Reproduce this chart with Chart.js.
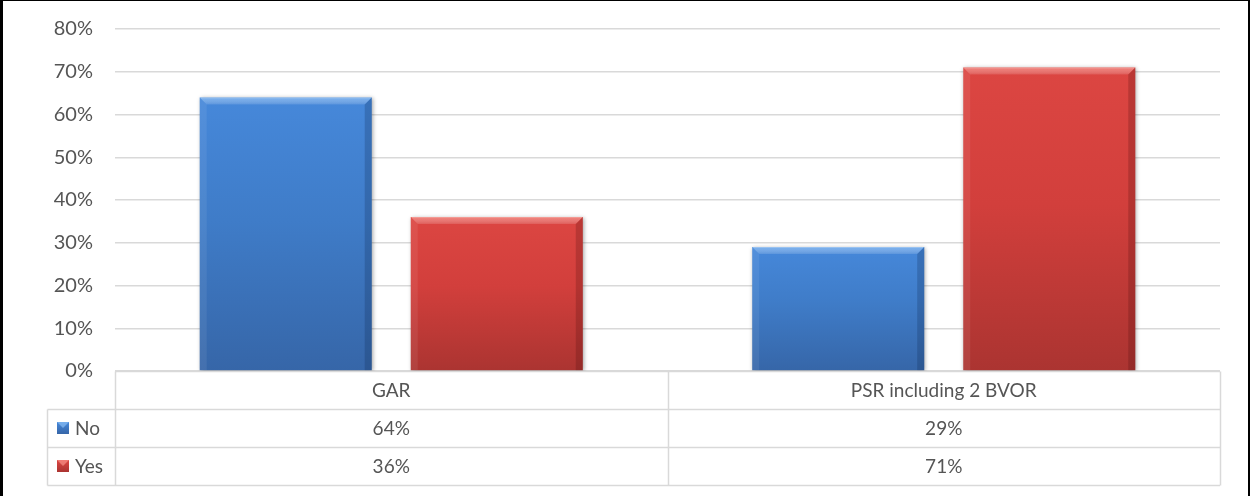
<!DOCTYPE html>
<html>
<head>
<meta charset="utf-8">
<script src="https://cdn.jsdelivr.net/npm/chart.js@4.4.1/dist/chart.umd.min.js"></script>
<style>
  html, body { margin: 0; padding: 0; background: #fff; }
  #frame {
    width: 1250px; height: 496px; box-sizing: border-box;
    border-left: 3px solid #000; border-top: 1px solid #000; border-right: 2px solid #000;
    overflow: hidden; background: #fff;
  }
  canvas { display: block; }
</style>
</head>
<body>
<div id="frame"><canvas id="chart" width="1245" height="495"></canvas></div>
<script>
// Survey answers per method, in percent
const categories = ['GAR', 'PSR including 2 BVOR'];
const seriesNames = ['No', 'Yes'];
const noValues = [64, 29];
const yesValues = [36, 71];
const yTickValues = [0, 10, 20, 30, 40, 50, 60, 70, 80];

const FONT = 'Lato, "Open Sans", sans-serif';
const TEXT = '#555555';
const LINE = '#d9d9d9';

// Fill shades for each series: top, middle, bottom, bevel light, bevel dark
const shades = {
  No:  { top: '#4688da', mid: '#3f7cc8', bot: '#3666a8', light: 'rgba(150,200,250,0.6)', dark: 'rgba(10,30,70,0.22)' },
  Yes: { top: '#dc4642', mid: '#d23f3c', bot: '#ab3431', light: 'rgba(255,160,150,0.6)', dark: 'rgba(70,10,10,0.22)' }
};

function barFill(name) {
  return (ctx) => {
    const chart = ctx.chart;
    const y = chart.scales.y;
    if (!y || ctx.raw === undefined) return shades[name].mid;
    const top = y.getPixelForValue(ctx.raw);
    const bottom = y.getPixelForValue(0);
    if (!isFinite(top) || !isFinite(bottom) || bottom - top < 1) return shades[name].mid;
    const g = chart.ctx.createLinearGradient(0, top, 0, bottom);
    g.addColorStop(0, shades[name].top);
    g.addColorStop(0.45, shades[name].mid);
    g.addColorStop(1, shades[name].bot);
    return g;
  };
}

// Soft shadow under the bars plus a bevelled edge on each bar
const bevelPlugin = {
  id: 'bevel',
  beforeDatasetsDraw(chart) {
    const c = chart.ctx;
    c.save();
    c.shadowColor = 'rgba(0,0,0,0.35)';
    c.shadowBlur = 4;
    c.shadowOffsetX = 1;
    c.shadowOffsetY = 1;
  },
  afterDatasetsDraw(chart) {
    const c = chart.ctx;
    c.restore();
    chart.data.datasets.forEach((ds, di) => {
      const meta = chart.getDatasetMeta(di);
      const sh = shades[ds.label];
      meta.data.forEach((bar) => {
        const p = bar.getProps(['x', 'y', 'base', 'width'], true);
        const l = p.x - p.width / 2, r = p.x + p.width / 2;
        const t = p.y, b = p.base, k = 7;
        c.save();
        // top face
        const tg = c.createLinearGradient(0, t, 0, t + k);
        tg.addColorStop(0, sh.light);
        tg.addColorStop(1, 'rgba(255,255,255,0.12)');
        c.fillStyle = tg;
        c.beginPath();
        c.moveTo(l, t); c.lineTo(r, t); c.lineTo(r - k, t + k); c.lineTo(l + k, t + k); c.closePath();
        c.fill();
        // left face
        c.fillStyle = 'rgba(255,255,255,0.07)';
        c.beginPath();
        c.moveTo(l, t); c.lineTo(l + k, t + k); c.lineTo(l + k, b); c.lineTo(l, b); c.closePath();
        c.fill();
        // right face
        c.fillStyle = sh.dark;
        c.beginPath();
        c.moveTo(r, t); c.lineTo(r - k, t + k); c.lineTo(r - k, b); c.lineTo(r, b); c.closePath();
        c.fill();
        // thin highlight on the very top edge
        c.fillStyle = 'rgba(255,255,255,0.25)';
        c.fillRect(l + 1, t, p.width - 2, 1);
        c.restore();
      });
    });
  }
};

// Data table under the plot: category header row plus one row per series
const tablePlugin = {
  id: 'dataTable',
  afterDraw(chart) {
    const c = chart.ctx;
    const a = chart.chartArea;
    const x = chart.scales.x;
    const rowH = 37.7;
    const top = Math.round(a.bottom) + 0.5;
    const keyLeft = 44.5;
    const edges = [a.left];
    for (let i = 1; i < categories.length; i++) {
      edges.push((x.getPixelForValue(i - 1) + x.getPixelForValue(i)) / 2);
    }
    edges.push(a.right);

    c.save();
    c.strokeStyle = LINE;
    c.lineWidth = 1.5;
    c.beginPath();
    c.moveTo(a.left, top); c.lineTo(a.right, top);
    for (let r = 1; r <= seriesNames.length; r++) {
      const yy = Math.round(top + rowH * r) + 0.5;
      c.moveTo(keyLeft, yy); c.lineTo(a.right, yy);
    }
    const bottom = Math.round(top + rowH * (seriesNames.length + 1)) + 0.5;
    c.moveTo(keyLeft, bottom); c.lineTo(a.right, bottom);
    c.moveTo(keyLeft, Math.round(top + rowH) + 0.5); c.lineTo(keyLeft, bottom);
    edges.forEach((e) => {
      const ex = Math.round(e) + 0.5;
      c.moveTo(ex, top); c.lineTo(ex, bottom);
    });
    c.stroke();

    const size = 19;
    c.font = size + 'px ' + FONT;
    c.fillStyle = TEXT;
    c.textBaseline = 'alphabetic';
    const capShift = size * 0.36;

    // header row
    c.textAlign = 'center';
    categories.forEach((cat, i) => {
      c.fillText(cat, x.getPixelForValue(i), top + rowH / 2 + capShift);
    });

    // series rows
    const rows = [noValues, yesValues];
    rows.forEach((vals, r) => {
      const cy = top + rowH * (r + 1) + rowH / 2;
      vals.forEach((v, i) => {
        c.textAlign = 'center';
        c.fillText(v + '%', x.getPixelForValue(i), cy + capShift);
      });
      // legend key
      const name = seriesNames[r];
      const sh = shades[name];
      const kx = 54, ky = Math.round(cy - 6), ks = 12;
      const kg = c.createLinearGradient(0, ky, 0, ky + ks);
      kg.addColorStop(0, sh.top);
      kg.addColorStop(1, sh.bot);
      c.fillStyle = kg;
      c.fillRect(kx, ky, ks, ks);
      c.fillStyle = sh.light;
      c.beginPath();
      c.moveTo(kx, ky); c.lineTo(kx + ks, ky); c.lineTo(kx + ks / 2, ky + ks / 2); c.closePath();
      c.fill();
      c.fillStyle = TEXT;
      c.textAlign = 'left';
      c.fillText(name, 72, cy + capShift);
    });
    c.restore();
  }
};

new Chart(document.getElementById('chart'), {
  type: 'bar',
  data: {
    labels: categories,
    datasets: [
      { label: seriesNames[0], data: noValues, backgroundColor: barFill('No'), borderWidth: 0 },
      { label: seriesNames[1], data: yesValues, backgroundColor: barFill('Yes'), borderWidth: 0 }
    ]
  },
  options: {
    responsive: false,
    animation: false,
    events: [],
    layout: { padding: { top: 28, bottom: 125, left: 0, right: 28 } },
    datasets: { bar: { categoryPercentage: 0.764, barPercentage: 0.815 } },
    plugins: { legend: { display: false }, tooltip: { enabled: false } },
    scales: {
      x: { display: false },
      y: {
        min: 0, max: 80,
        afterFit(scale) {
          scale.width = 112;
          scale.paddingTop = 0;
          scale.paddingBottom = 0;
        },
        afterBuildTicks(scale) { scale.ticks = yTickValues.map((v) => ({ value: v })); },
        ticks: {
          callback: (v) => v + '%',
          color: TEXT,
          padding: 22,
          font: { family: FONT, size: 20 }
        },
        grid: { color: LINE, lineWidth: 1.5, drawTicks: false },
        border: { display: false }
      }
    }
  },
  plugins: [bevelPlugin, tablePlugin]
});
</script>
</body>
</html>
